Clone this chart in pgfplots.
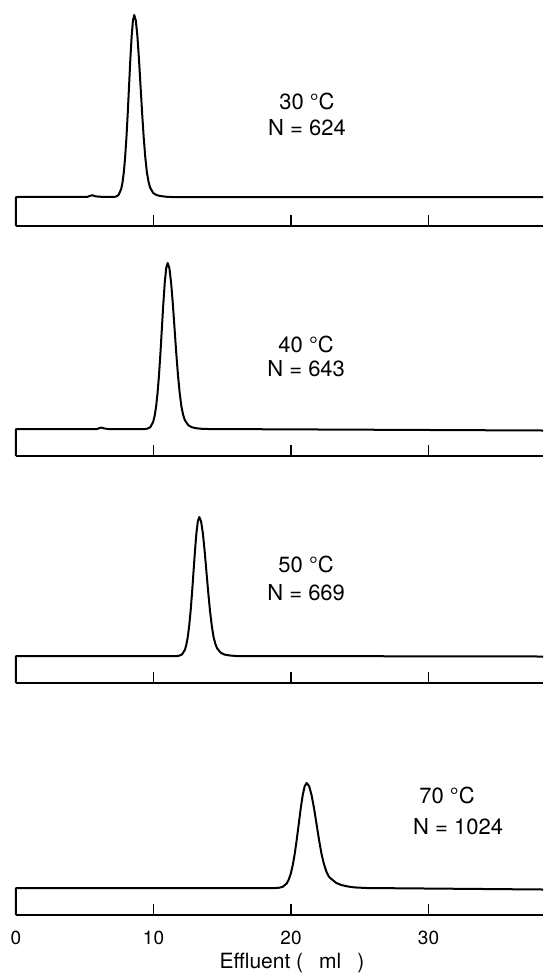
\documentclass[border=0pt]{standalone}
\usepackage{pgfplots}
\pgfplotsset{compat=1.18}
\usepackage{fontspec}
\setmainfont{TeX Gyre Heros}
\pgfplotsset{
  panel/.style={
    anchor=south west,
    x=6.875pt, y=0.5pt,
    xmin=0, xmax=38.33, ymax=190,
    axis x line=bottom, axis y line=none,
    axis line style={-, line width=0.8pt, black},
    xtick align=inside, major tick length=5.5pt,
    every tick/.style={line width=0.8pt, black},
    xtick={10,20,30}, xticklabels={},
    clip=false,
    /pgf/number format/assume math mode=true,
  },
  trace/.style={black, line width=1.0pt, line join=round, no markers},
}
\tikzset{txt/.style={font=\fontsize{11}{13}\selectfont, anchor=center, inner sep=0pt}}
\begin{document}
\begin{tikzpicture}
\useasboundingbox (0,0) rectangle (271.5pt,-487.5pt);

% ---- 30 C ----
\begin{axis}[panel, at={(8pt,-113pt)}, ymin=-29]
\addplot[trace] coordinates {
(0,-29) (0,0) (5.2,0.2) (5.4,1.2) (5.55,1.8) (5.75,0.8) (6.0,0.3) (7.1,0)
(7.27,0.4) (7.46,2.0) (7.65,8.0) (7.745,14.5) (7.84,24.6) (7.935,39.4) (8.03,59.1)
(8.125,83.3) (8.22,110.4) (8.315,137.4) (8.41,160.6) (8.505,176.4) (8.60,182)
(8.715,176.4) (8.83,160.6) (8.945,137.4) (9.06,110.4) (9.175,83.3) (9.29,59.1)
(9.405,39.4) (9.52,24.6) (9.635,15.5) (9.75,9.5) (9.98,4.0) (10.21,2.0)
(10.5,1.0) (10.9,0.3) (11.3,0) (38.33,0)
};
\node[txt] at (axis cs:21.16,96) {30 °C};
\node[txt] at (axis cs:21.16,69) {N = 624};
\end{axis}

% ---- 40 C ----
\begin{axis}[panel, at={(8pt,-228pt)}, ymin=-27]
\addplot[trace] coordinates {
(0,-27) (0,0) (5.9,0) (6.05,0.8) (6.2,1.5) (6.4,0.6) (6.7,0) (9.4,0)
(9.56,0.4) (9.77,1.8) (9.98,7.3) (10.085,13.2) (10.19,22.5) (10.295,35.9) (10.40,53.9)
(10.505,76.0) (10.61,100.7) (10.715,125.3) (10.82,146.5) (10.925,160.9) (11.03,166)
(11.155,160.9) (11.28,146.5) (11.405,125.3) (11.53,100.7) (11.655,76.0) (11.78,53.9)
(11.905,35.9) (12.03,22.5) (12.155,14.2) (12.28,8.8) (12.53,3.8) (12.78,1.8)
(13.1,0.8) (13.5,0.2) (14.0,0) (38.33,-1.5)
};
\node[txt] at (axis cs:21.1,85) {40 °C};
\node[txt] at (axis cs:21.1,60) {N = 643};
\end{axis}

% ---- 50 C ----
\begin{axis}[panel, at={(8pt,-341.5pt)}, ymin=-27]
\addplot[trace] coordinates {
(0,-27) (0,0) (11.7,0)
(11.86,0.3) (12.07,1.5) (12.28,6.1) (12.385,11.1) (12.49,18.8) (12.595,30.1) (12.70,45.1)
(12.805,63.6) (12.91,84.3) (13.015,104.9) (13.12,122.7) (13.225,134.7) (13.33,139)
(13.46,134.7) (13.59,122.7) (13.72,104.9) (13.85,84.3) (13.98,63.6) (14.11,45.1)
(14.24,30.1) (14.37,18.8) (14.50,12.1) (14.63,7.6) (14.89,3.3) (15.15,1.5)
(15.5,0.6) (16.0,0) (38.33,-0.5)
};
\node[txt] at (axis cs:21.1,92) {50 °C};
\node[txt] at (axis cs:21.1,63) {N = 669};
\end{axis}

% ---- 70 C ----
\begin{axis}[panel, at={(8pt,-457.5pt)}, ymin=-27,
  xtick={0,10,20,30}, xticklabels={0,10,20,30},
  xticklabel style={font=\fontsize{9.5}{11}\selectfont, yshift=-4.5pt},
  xlabel={Effluent (\hspace{8pt}ml\hspace{8pt})},
  every axis x label/.style={at={(axis cs:20.07,-75)}, anchor=center, font=\fontsize{10.5}{12}\selectfont}]
\addplot[trace] coordinates {
(0,-27) (0,0) (18.9,0)
(19.11,0.2) (19.40,1.2) (19.69,4.6) (19.835,8.4) (19.98,14.2) (20.125,22.7) (20.27,34.1)
(20.415,48.1) (20.56,63.7) (20.705,79.3) (20.85,92.7) (20.995,101.8) (21.14,105)
(21.32,101.8) (21.50,92.7) (21.68,79.3) (21.86,63.7) (22.04,48.1) (22.22,34.1)
(22.40,23.7) (22.58,16.2) (22.76,11.2) (22.94,9.0) (23.30,5.0) (23.66,3.0)
(24.1,1.6) (24.6,0.6) (25.5,0) (38.33,-1.5)
};
\node[txt] at (axis cs:31.35,93) {70 °C};
\node[txt] at (axis cs:32.15,61) {N = 1024};
\end{axis}
\end{tikzpicture}
\end{document}
